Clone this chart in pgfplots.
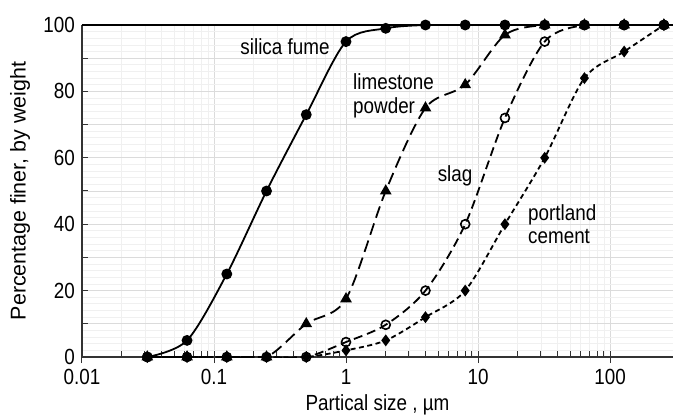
\documentclass[border=0pt]{standalone}
\usepackage{fontspec}
\setmainfont{Liberation Sans}[FakeStretch=0.86]
\newfontfamily\ylfont{Liberation Sans}
\usepackage{pgfplots}
\pgfplotsset{compat=1.18}
\usetikzlibrary{calc}

\begin{document}
\begin{tikzpicture}
\begin{axis}[
    name=ax,
    scale only axis,
    width=591bp, height=332bp,
    xmode=log,
    xmin=0.01, xmax=300,
    ymin=0, ymax=100,
    axis x line=bottom, axis y line=left,
    axis line style={-, line width=1.1bp, black!80},
    xtick={0.01,0.1,1,10,100},
    xticklabels={0.01,0.1,1,10,100},
    ytick={0,10,...,100},
    yticklabels={0,,20,,40,,60,,80,,100},
    minor y tick num=4,
    minor y tick style={draw=none},
    grid=both,
    major grid style={black!14, line width=0.9bp},
    minor grid style={black!6, line width=0.8bp},
    tick align=inside,
    major tick length=6bp, minor tick length=6bp,
    tick style={black!80, line width=1bp},
    extra x ticks={0.01,0.1,1,10,100},
    extra x tick labels={},
    extra x tick style={grid=none, tick align=outside},
    /pgf/number format/assume math mode=true,
    font=\fontsize{22}{24}\selectfont,
    ticklabel style={font=\fontsize{22}{24}\selectfont},
    xticklabel style={yshift=-10bp, inner sep=2bp},
    yticklabel style={inner sep=2bp, xshift=-5bp},
    every axis x label/.style={at={(axis description cs:0.5,0)}, yshift=-48bp, anchor=center},
    every axis y label/.style={at={(axis description cs:0,0.5)}, xshift=-62bp, rotate=90, anchor=center,
        font=\ylfont\fontsize{21.5}{24}\selectfont},
    xlabel={Partical size , µm},
    ylabel={Percentage finer, by weight},
]
% portland cement
\addplot[black, line width=1.8bp, smooth, dash pattern=on 5bp off 3.5bp,
    mark=diamond*, mark size=4.5bp, mark options={solid}] coordinates {
    (0.03125,0) (0.0625,0) (0.125,0) (0.25,0) (0.5,0) (1,2) (2,5) (4,12) (8,20)
    (16,40) (32,60) (64,84) (128,92) (256,100)};
% limestone powder
\addplot[black, line width=1.8bp, smooth, dash pattern=on 12bp off 6bp,
    mark=triangle*, mark size=5bp, mark options={solid}] coordinates {
    (0.03125,0) (0.0625,0) (0.125,0) (0.25,0) (0.5,10) (1,17.5) (2,50) (4,75) (8,82)
    (16,97) (32,100) (64,100) (128,100) (256,100)};
% slag
\addplot[black, line width=1.8bp, smooth, dash pattern=on 9bp off 5bp,
    mark=o, mark size=4.5bp, mark options={solid, fill=white, line width=1.6bp}] coordinates {
    (0.03125,0) (0.0625,0) (0.125,0) (0.25,0) (0.5,0) (1,4.5) (2,9.7) (4,20) (8,40)
    (16,72) (32,95) (64,100) (128,100) (256,100)};
% silica fume
\addplot[black, line width=1.8bp, smooth, mark=*, mark size=4.5bp] coordinates {
    (0.03125,0) (0.0625,5) (0.125,25) (0.25,50) (0.5,73) (1,95) (2,99) (4,100)
    (8,100) (16,100) (32,100) (64,100) (128,100) (256,100)};

\node[anchor=center] at (axis cs:0.345,93.4) {silica fume};
\node[anchor=west, align=left, inner sep=0pt] at (axis cs:1.13,78.6) {limestone\\powder};
\node[anchor=center] at (axis cs:6.7,54.5) {slag};
\node[anchor=west, align=left, inner sep=0pt] at (axis cs:23.9,40) {portland\\cement};

\draw[black, line width=1.1bp] (rel axis cs:0,1) -- (rel axis cs:1,1);
\end{axis}
\pgfresetboundingbox
\path ($(ax.south west)+(-82bp,-59bp)$) rectangle ($(ax.north east)+(0,25bp)$);
\end{tikzpicture}
\end{document}
